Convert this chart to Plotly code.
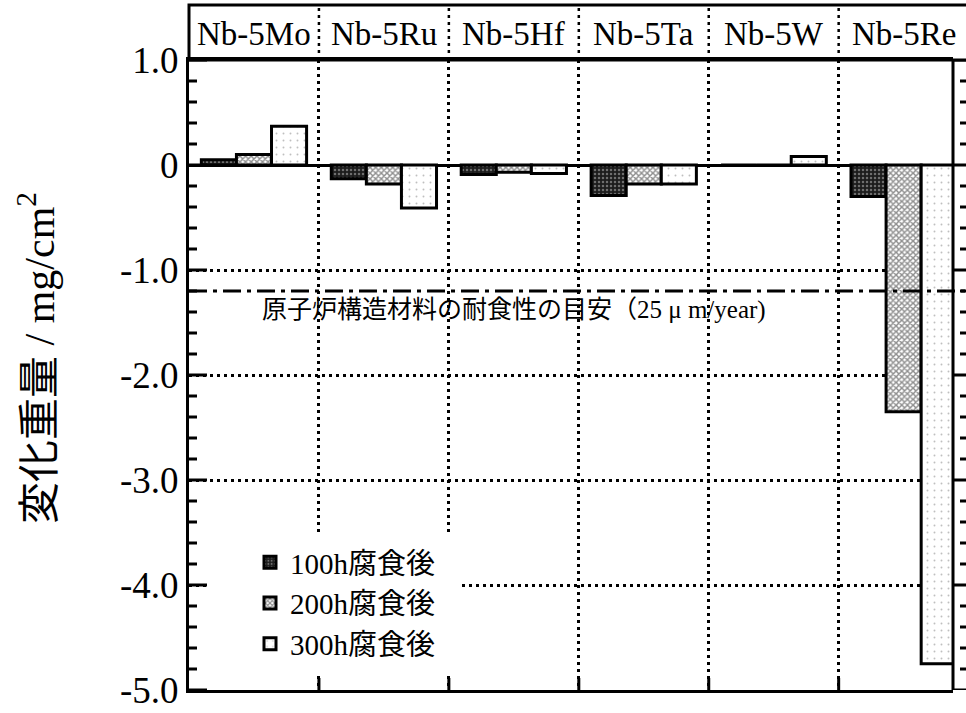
import plotly.graph_objects as go

# Alloys (header columns) and mass change (mg/cm^2) after each corrosion time
alloys = ["Nb-5Mo", "Nb-5Ru", "Nb-5Hf", "Nb-5Ta", "Nb-5W", "Nb-5Re"]
series_names = ["100h腐食後", "200h腐食後", "300h腐食後"]
change_100h = [0.05, -0.13, -0.09, -0.29, 0.0, -0.30]
change_200h = [0.10, -0.18, -0.07, -0.18, 0.0, -2.35]
change_300h = [0.37, -0.41, -0.08, -0.18, 0.08, -4.75]

# Corrosion-resistance guideline for reactor structural materials
guide_value = -1.2
guide_text = "原子炉構造材料の耐食性の目安（25 μ m/year)"

y_tickvals = [1, 0, -1, -2, -3, -4, -5]
y_ticktext = ["1.0", "0", "-1.0", "-2.0", "-3.0", "-4.0", "-5.0"]
y_minor_vals = [round(-5 + 0.2 * k, 1) for k in range(31) if k % 5]
y_title = "変化重量 / mg/cm<sup>2</sup>"

SERIF = "Liberation Serif, Noto Sans CJK JP, serif"
DOT = "3px,4px"
Y_RANGE = [-5, 1]
X_RANGE = [-0.5, 5.38]
x_bounds = [i + 0.5 for i in range(len(alloys) - 1)]

patterns = [
    dict(shape=".", bgcolor="#1c1c1c", fgcolor="#c0c0c0", size=4, solidity=0.3),
    dict(shape="x", bgcolor="white", fgcolor="#202020", size=4, solidity=0.6),
    dict(shape=".", bgcolor="white", fgcolor="#808080", size=7, solidity=0.06),
]

x_pos = list(range(len(alloys)))
fig = go.Figure()
for name, vals, pat in zip(series_names, [change_100h, change_200h, change_300h], patterns):
    fig.add_trace(go.Bar(
        x=x_pos, y=vals, name=name, legendgroup=name,
        marker=dict(color=pat["bgcolor"], pattern=pat,
                    line=dict(color="black", width=3)),
    ))

W, H = 966, 713
ML, MR, MT, MB = 189, 13, 60, 23
plot_w = W - ML - MR
plot_h = H - MT - MB


def px_x(px):
    return (px - ML) / plot_w


def px_y(py):
    return (H - MB - py) / plot_h


TICK = dict(color="black", width=3)
shapes = []
# header band holding the alloy names
shapes.append(dict(type="rect", xref="paper", yref="paper",
                   x0=0, x1=px_x(985), y0=1, y1=px_y(5),
                   line=dict(color="black", width=3), fillcolor="rgba(0,0,0,0)",
                   layer="above"))
for xb in x_bounds:
    shapes.append(dict(type="line", xref="x", yref="paper",
                       x0=xb, x1=xb, y0=1, y1=px_y(5),
                       line=dict(color="black", width=2.5, dash=DOT)))
# white panel behind the legend
shapes.append(dict(type="rect", xref="paper", yref="paper",
                   x0=px_x(208), x1=px_x(462), y0=px_y(676), y1=px_y(532),
                   line=dict(width=0), fillcolor="white", layer="above"))
# guideline
shapes.append(dict(type="line", xref="paper", yref="y",
                   x0=0, x1=px_x(966), y0=guide_value, y1=guide_value,
                   line=dict(color="black", width=3, dash="18px,6px,4px,6px"),
                   layer="above"))
# right-hand frame line
shapes.append(dict(type="line", xref="paper", yref="paper",
                   x0=1, x1=1, y0=0, y1=1, line=TICK, layer="above"))
# tick marks: inward on the left, outward on the right, inward at the bottom
for v in y_tickvals:
    shapes.append(dict(type="line", xref="paper", yref="y", x0=0, x1=px_x(207),
                       y0=v, y1=v, line=TICK, layer="above"))
    shapes.append(dict(type="line", xref="paper", yref="y", x0=1, x1=px_x(968),
                       y0=v, y1=v, line=TICK, layer="above"))
for v in y_minor_vals:
    shapes.append(dict(type="line", xref="paper", yref="y", x0=0, x1=px_x(197),
                       y0=v, y1=v, line=TICK, layer="above"))
    shapes.append(dict(type="line", xref="paper", yref="y", x0=px_x(960), x1=px_x(968),
                       y0=v, y1=v, line=TICK, layer="above"))
for xb in x_bounds:
    shapes.append(dict(type="line", xref="x", yref="paper", x0=xb, x1=xb,
                       y0=0, y1=12 / plot_h, line=TICK, layer="above"))

annotations = []
for i, a in enumerate(alloys):
    annotations.append(dict(x=i, y=px_y(34), xref="x", yref="paper", text=a,
                            showarrow=False, font=dict(family=SERIF, size=33, color="black"),
                            xanchor="center", yanchor="middle"))
annotations.append(dict(x=px_x(260), y=guide_value, xref="paper", yref="y",
                        text=guide_text, showarrow=False,
                        font=dict(family=SERIF, size=25, color="black"),
                        xanchor="left", yanchor="top", yshift=-3))
annotations.append(dict(x=px_x(36), y=px_y(358), xref="paper", yref="paper",
                        text=y_title, showarrow=False, textangle=-90,
                        font=dict(family=SERIF, size=42, color="black"),
                        xanchor="center", yanchor="middle"))

fig.update_layout(
    width=W, height=H,
    margin=dict(l=ML, r=MR, t=MT, b=MB, autoexpand=False),
    paper_bgcolor="white", plot_bgcolor="white",
    barmode="group", bargap=0.19, bargroupgap=0,
    font=dict(family=SERIF, color="black"),
    showlegend=True,
    legend=dict(x=px_x(250), y=px_y(537), xanchor="left", yanchor="top",
                bgcolor="rgba(0,0,0,0)", borderwidth=0,
                font=dict(family=SERIF, size=29, color="black"),
                tracegroupgap=3, traceorder="normal"),
    shapes=shapes, annotations=annotations,
    xaxis=dict(range=X_RANGE, tickmode="array", tickvals=x_bounds,
               showticklabels=False, ticks="",
               showgrid=True, gridcolor="black", gridwidth=2.5, griddash=DOT,
               showline=True, linecolor="black", linewidth=3,
               mirror=True, zeroline=False),
    yaxis=dict(range=Y_RANGE, tickmode="array", tickvals=y_tickvals, ticktext=y_ticktext,
               ticks="", ticksuffix="  ",
               tickfont=dict(family=SERIF, size=37, color="black"),
               showgrid=True, gridcolor="black", gridwidth=2.5, griddash=DOT,
               zeroline=True, zerolinecolor="black", zerolinewidth=3,
               showline=True, linecolor="black", linewidth=3),
)

fig.write_html("out.html")
